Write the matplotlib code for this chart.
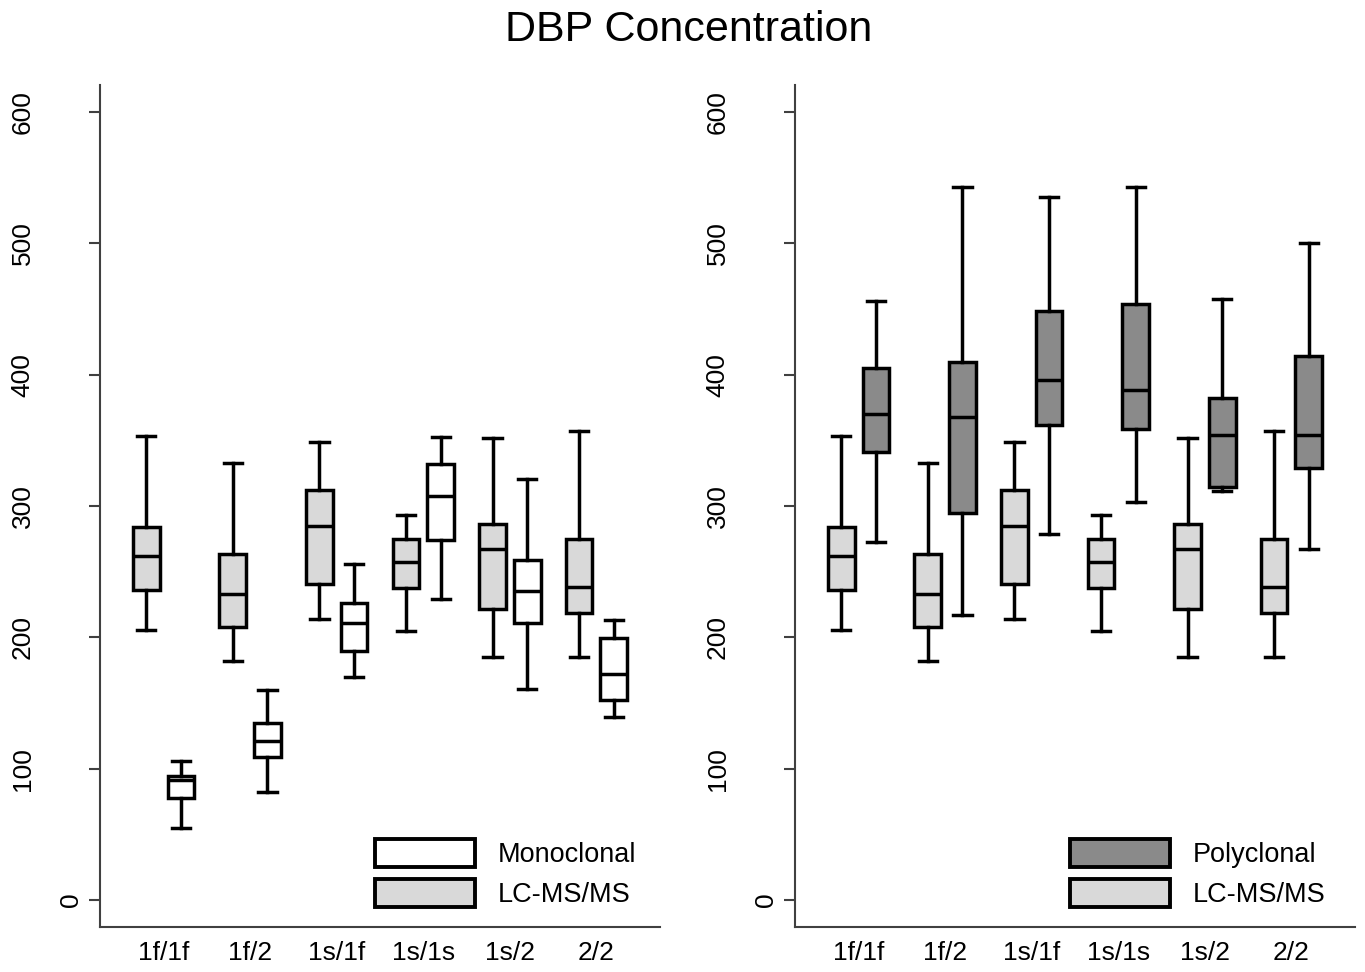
import matplotlib
matplotlib.use("Agg")
import matplotlib.pyplot as plt
from matplotlib.patches import Patch

plt.rcParams['font.family'] = ['Liberation Sans', 'DejaVu Sans']

categories = ["1f/1f", "1f/2", "1s/1f", "1s/1s", "1s/2", "2/2"]

# LC-MS/MS (same in both panels): whisker low, q1, median, q3, whisker high
lc_low = [205.7, 182.1, 213.8, 204.9, 185.1, 185.1]
lc_q1 = [236.1, 208.0, 240.7, 237.7, 221.7, 218.6]
lc_med = [262.0, 232.9, 284.9, 257.5, 267.4, 238.4]
lc_q3 = [284.1, 263.3, 312.3, 275.0, 286.4, 275.0]
lc_high = [353.4, 333.1, 349.1, 293.3, 351.9, 357.3]

# Monoclonal
mono_low = [54.6, 82.0, 169.9, 229.3, 160.7, 139.2]
mono_q1 = [77.9, 108.9, 189.7, 274.2, 211.0, 152.3]
mono_med = [91.4, 121.1, 211.0, 307.7, 235.4, 171.9]
mono_q3 = [94.5, 134.8, 226.2, 332.1, 259.0, 199.8]
mono_high = [106.1, 160.0, 255.9, 352.7, 320.7, 213.3]

# Polyclonal
poly_low = [272.9, 217.1, 278.8, 303.2, 311.5, 267.4]
poly_q1 = [341.0, 295.0, 361.8, 358.8, 314.6, 329.1]
poly_med = [370.2, 367.7, 396.1, 388.5, 354.2, 354.2]
poly_q3 = [405.5, 409.6, 448.9, 454.0, 382.4, 414.4]
poly_high = [456.5, 543.1, 535.5, 543.1, 457.8, 500.5]

yticks = [0, 100, 200, 300, 400, 500, 600]

LC_COLOR = "#d9d9d9"
MONO_COLOR = "#ffffff"
POLY_COLOR = "#8a8a8a"
SPINE = "#404040"


def stats(low, q1, med, q3, high):
    return [dict(whislo=a, q1=b, med=c, q3=d, whishi=e, fliers=[])
            for a, b, c, d, e in zip(low, q1, med, q3, high)]


fig = plt.figure(figsize=(13.65, 9.72), dpi=100)
axL = fig.add_axes([0.07326, 0.0466, 0.41026, 0.86595])
axR = fig.add_axes([0.58242, 0.0466, 0.41026, 0.86595])

lw = 2.5
pos = list(range(1, len(categories) + 1))


def draw(ax, st, color, off):
    ax.bxp(st, positions=[p + off for p in pos], widths=0.31, capwidths=0.21,
           patch_artist=True, showfliers=False, manage_ticks=False,
           boxprops=dict(facecolor=color, edgecolor="black", linewidth=lw),
           whiskerprops=dict(color="black", linewidth=lw),
           capprops=dict(color="black", linewidth=lw),
           medianprops=dict(color="black", linewidth=lw))


lc_stats = stats(lc_low, lc_q1, lc_med, lc_q3, lc_high)
draw(axL, lc_stats, LC_COLOR, -0.2)
draw(axL, stats(mono_low, mono_q1, mono_med, mono_q3, mono_high), MONO_COLOR, 0.2)
draw(axR, lc_stats, LC_COLOR, -0.2)
draw(axR, stats(poly_low, poly_q1, poly_med, poly_q3, poly_high), POLY_COLOR, 0.2)

for ax, name, col in [(axL, "Monoclonal", MONO_COLOR), (axR, "Polyclonal", POLY_COLOR)]:
    ax.set_xlim(0.265, 6.735)
    ax.set_ylim(-20.3, 620.7)
    for s in ["top", "right"]:
        ax.spines[s].set_visible(False)
    for s in ["left", "bottom"]:
        ax.spines[s].set_color(SPINE)
        ax.spines[s].set_linewidth(1.5)
    ax.set_xticks(pos)
    ax.set_xticklabels(categories, fontsize=19)
    ax.tick_params(axis="x", length=0, pad=10.5)
    ax.set_yticks(yticks)
    ax.set_yticklabels([str(t) for t in yticks], fontsize=19, rotation=90, va="center")
    ax.tick_params(axis="y", length=8, width=1.5, color=SPINE, pad=39)
    ticks = ax.yaxis.get_major_ticks()
    ticks[0].set_pad(4)
    handles = [Patch(facecolor=col, edgecolor="black", linewidth=2.8, label=name),
               Patch(facecolor=LC_COLOR, edgecolor="black", linewidth=2.8, label="LC-MS/MS")]
    ax.legend(handles=handles, loc="lower left", bbox_to_anchor=(0.491, 0.022),
              frameon=False, fontsize=19.5, handlelength=3.7, handleheight=1.2,
              handletextpad=0.85, labelspacing=0.42, borderpad=0, borderaxespad=0)

fig.text(0.5048, 0.969, "DBP Concentration", ha="center", va="center", fontsize=31)

fig.savefig("out.png", dpi=100)
